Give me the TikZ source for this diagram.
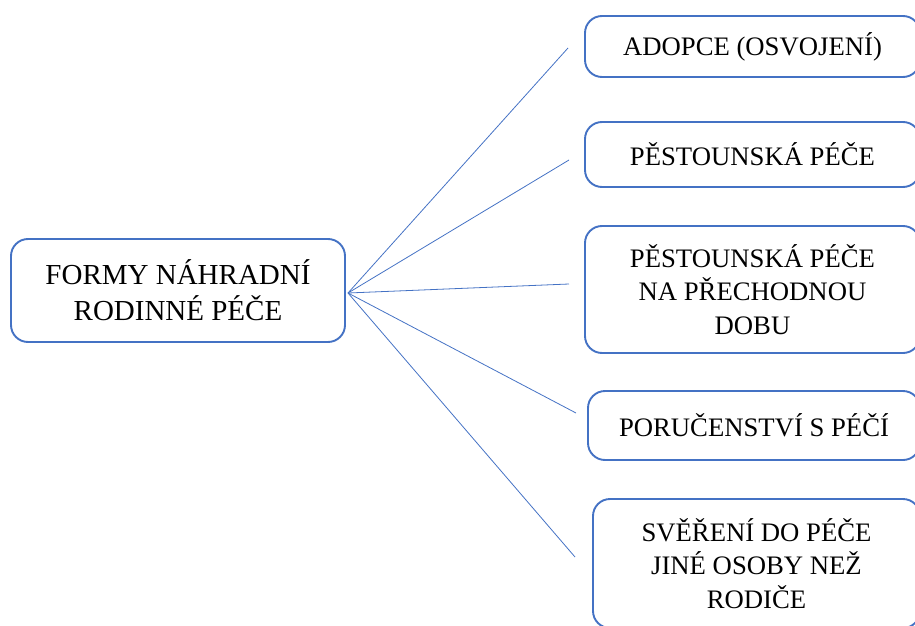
\documentclass[tikz,border=0pt]{standalone}
\usepackage{fontspec}
\setmainfont{Liberation Serif}
\definecolor{modra}{HTML}{4472C4}

\begin{document}
\begin{tikzpicture}[x=1pt,y=-1pt,
        box/.style={draw=modra,line width=1.9pt,rounded corners=17pt,align=center,inner sep=0pt},
        velky/.style={font=\fontsize{29}{36}\selectfont},
        maly/.style={font=\fontsize{26.7}{33.5}\selectfont},
        spoj/.style={draw=modra,line width=0.8pt}]
    \useasboundingbox (0,0) rectangle (915,626);
    \clip (0,0) rectangle (915,626);
    \node[box,velky,minimum width=334pt,minimum height=103pt] (forma) at (178,290.5) {FORMY NÁHRADNÍ\\RODINNÉ PÉČE};
    \node[box,maly,minimum width=335pt,minimum height=61pt] (adopce) at (752.5,46.5) {ADOPCE (OSVOJENÍ)};
    \node[box,maly,minimum width=335pt,minimum height=65pt] (pestoun) at (752.5,154.5) {PĚSTOUNSKÁ PÉČE};
    \node[box,maly,minimum width=335pt,minimum height=127pt] (prechod) at (752.5,289.5) {PĚSTOUNSKÁ PÉČE\\NA PŘECHODNOU\\DOBU};
    \node[box,maly,minimum width=332pt,minimum height=69pt] (porucen) at (754,425.5) {PORUČENSTVÍ S PÉČÍ};
    \node[box,maly,minimum width=327pt,minimum height=129pt] (sverit) at (756.5,563.5) {SVĚŘENÍ DO PÉČE\\JINÉ OSOBY NEŽ\\RODIČE};
    \coordinate (hub) at (348,293);
    \coordinate (k1) at (568,48);
    \coordinate (k2) at (569,160);
    \coordinate (k3) at (569,284);
    \coordinate (k4) at (576,413);
    \coordinate (k5) at (575,557);
    \foreach \k in {k1,k2,k3,k4,k5}
        \draw[spoj] (hub) -- (\k);
\end{tikzpicture}
\end{document}
